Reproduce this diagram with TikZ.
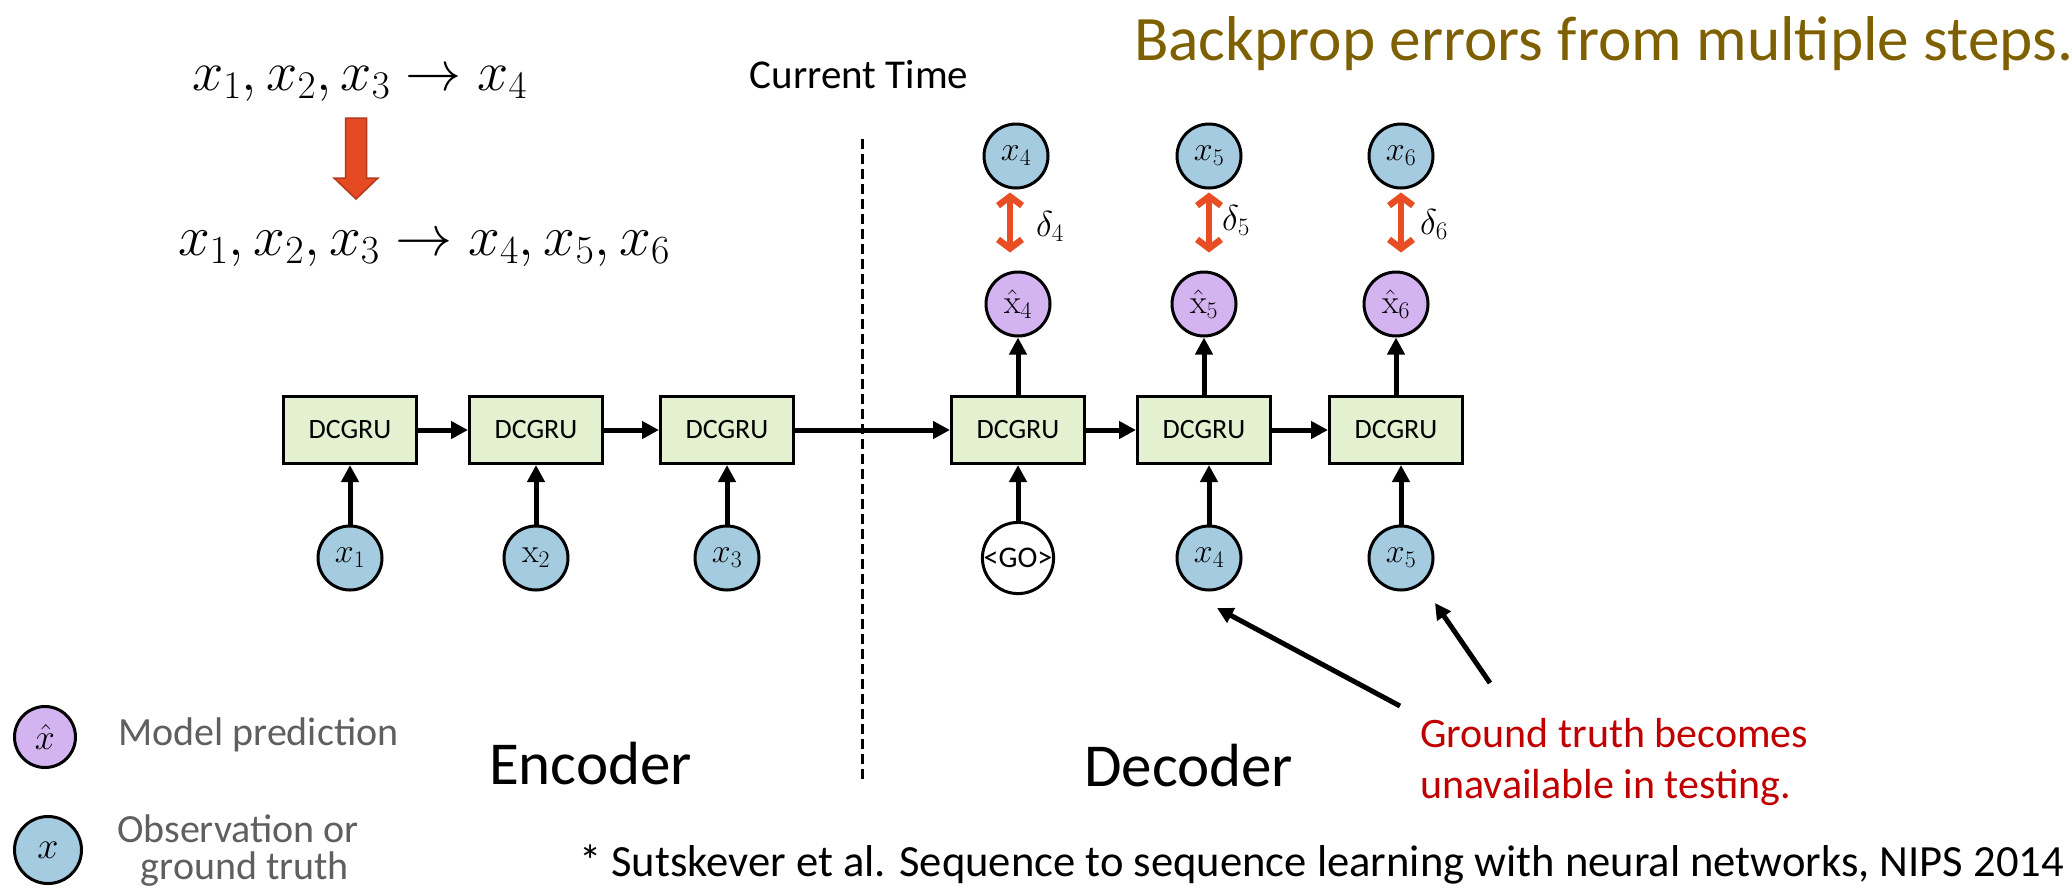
\RequirePackage{fix-cm}
\documentclass[tikz,border=0pt]{standalone}
\usepackage[no-math]{fontspec}
\setmainfont{Carlito}
\usetikzlibrary{arrows.meta}

\definecolor{boxgreen}{RGB}{227,241,209}
\definecolor{obsblue}{RGB}{165,203,224}
\definecolor{predpurple}{RGB}{211,180,240}
\definecolor{errred}{RGB}{232,77,35}
\definecolor{blockred}{RGB}{230,74,34}
\definecolor{blockedge}{RGB}{178,57,27}
\definecolor{titlebrown}{RGB}{127,96,0}
\definecolor{notered}{RGB}{192,0,0}
\definecolor{legendgray}{RGB}{95,95,95}

\newcommand{\fs}[1]{\fontsize{#1}{#1}\selectfont}

\tikzset{
  cell/.style={draw, line width=3pt, fill=boxgreen, minimum width=133pt,
    minimum height=67pt, inner sep=0pt, font=\fs{28}},
  obs/.style={circle, draw, line width=3pt, fill=obsblue, minimum size=64pt,
    inner sep=0pt, font=\fs{34}},
  pred/.style={obs, fill=predpurple},
  gonode/.style={obs, fill=white, font=\fs{30}},
  flow/.style={line width=5pt, -{Triangle[length=17pt,width=17pt]}},
  err/.style={line width=6.5pt, color=errred,
    {Straight Barb[length=9pt,width=24pt]}-{Straight Barb[length=9pt,width=24pt]},
    shorten <=3pt, shorten >=18pt},
  pointer/.style={line width=5pt, -{Triangle[length=16pt,width=16pt]}},
  txt/.style={inner sep=0pt, anchor=base west},
}

\begin{document}
\begin{tikzpicture}[x=1pt, y=-1pt]
\useasboundingbox (0,0) rectangle (2072,887);

% sequence statements and the block arrow between them
\node[txt, font=\fs{56}] (seqa) at (192,90) {$x_1, x_2, x_3 \rightarrow x_4$};
\node[txt, font=\fs{57}] (seqb) at (178,255) {$x_1, x_2, x_3 \rightarrow x_4, x_5, x_6$};
\fill[blockred, draw=blockedge, line width=1.5pt]
  (345.5,118) -- (366.5,118) -- (366.5,178) -- (378,178) -- (356,199)
  -- (334,178) -- (345.5,178) -- cycle;

% title and time marker
\node[txt, font=\fs{63.3}, text=titlebrown] (title) at (1134,60) {Backprop errors from multiple steps.};
\node[inner sep=0pt, anchor=base, font=\fs{41}] (now) at (859,88) {Current Time};
\coordinate (divtop) at (862,139);
\coordinate (divbot) at (862,780);
\draw[line width=3pt, dash pattern=on 10pt off 5pt] (divtop) -- (divbot);

% encoder
\node[cell] (e1) at (350,430) {DCGRU};
\node[cell] (e2) at (536,430) {DCGRU};
\node[cell] (e3) at (727,430) {DCGRU};
\node[obs] (i1) at (350,558) {$x_1$};
\node[obs] (i2) at (536,558) {$\mathrm{x}_2$};
\node[obs] (i3) at (727,558) {$x_3$};

% decoder
\node[cell] (d1) at (1018,430) {DCGRU};
\node[cell] (d2) at (1204,430) {DCGRU};
\node[cell] (d3) at (1396,430) {DCGRU};
\node[gonode] (go) at (1018,558) {<GO>};
\node[obs] (g4) at (1209,558) {$x_4$};
\node[obs] (g5) at (1401,558) {$x_5$};
\node[pred] (p4) at (1018,304) {$\hat{\mathrm{x}}_4$};
\node[pred] (p5) at (1204,304) {$\hat{\mathrm{x}}_5$};
\node[pred] (p6) at (1396,304) {$\hat{\mathrm{x}}_6$};
\node[obs] (t4) at (1016,156) {$x_4$};
\node[obs] (t5) at (1209,156) {$x_5$};
\node[obs] (t6) at (1401,156) {$x_6$};

% recurrent chain
\draw[flow] (e1) -- (e2);
\draw[flow] (e2) -- (e3);
\draw[flow] (e3) -- (d1);
\draw[flow] (d1) -- (d2);
\draw[flow] (d2) -- (d3);

% inputs and outputs
\draw[flow] (i1) -- (e1);
\draw[flow] (i2) -- (e2);
\draw[flow] (i3) -- (e3);
\draw[flow] (go) -- (d1);
\draw[flow] (g4.north) -- (g4.north |- d2.south);
\draw[flow] (g5.north) -- (g5.north |- d3.south);
\draw[flow] (d1) -- (p4);
\draw[flow] (d2) -- (p5);
\draw[flow] (d3) -- (p6);

% errors between targets and predictions
\draw[err] ([xshift=-6pt]t4.south) -- ([xshift=-6pt]t4.south |- p4.north);
\draw[err] (t5.south) -- (t5.south |- p5.north);
\draw[err] (t6.south) -- (t6.south |- p6.north);
\node[txt, font=\fs{36}] (e4) at (1036,236) {$\delta_4$};
\node[txt, font=\fs{36}] (e5) at (1222,230) {$\delta_5$};
\node[txt, font=\fs{36}] (e6) at (1420,234) {$\delta_6$};

% section labels
\node[txt, font=\fs{61}] (enc) at (489,784) {Encoder};
\node[txt, font=\fs{61}] (dec) at (1084,786) {Decoder};

% note on missing ground truth
\node[txt, font=\fs{42}, text=notered] (noteA) at (1420,747) {Ground truth becomes};
\node[txt, font=\fs{42}, text=notered] (noteB) at (1420,798) {unavailable in testing.};
\coordinate (ptrA) at (1400,706);
\coordinate (ptrAend) at (1217,608);
\coordinate (ptrB) at (1490,683);
\coordinate (ptrBend) at (1435,603);
\draw[pointer] (ptrA) -- (ptrAend);
\draw[pointer] (ptrB) -- (ptrBend);

% legend
\node[pred, minimum size=61pt, font=\fs{36}] (legp) at (45,737) {$\hat{x}$};
\node[obs, minimum size=67pt, font=\fs{38}] (lego) at (48,850) {$x$};
\node[txt, font=\fs{40}, text=legendgray] (legpt) at (118,745) {Model prediction};
\node[inner sep=0pt, anchor=base, font=\fs{40}, text=legendgray] (legot1) at (238,842) {Observation or};
\node[inner sep=0pt, anchor=base, font=\fs{40}, text=legendgray] (legot2) at (245,879) {ground truth};

% reference
\node[txt, font=\fs{44.6}] (ref) at (579,876) {* Sutskever et al. Sequence to sequence learning with neural networks, NIPS 2014};
\end{tikzpicture}
\end{document}
